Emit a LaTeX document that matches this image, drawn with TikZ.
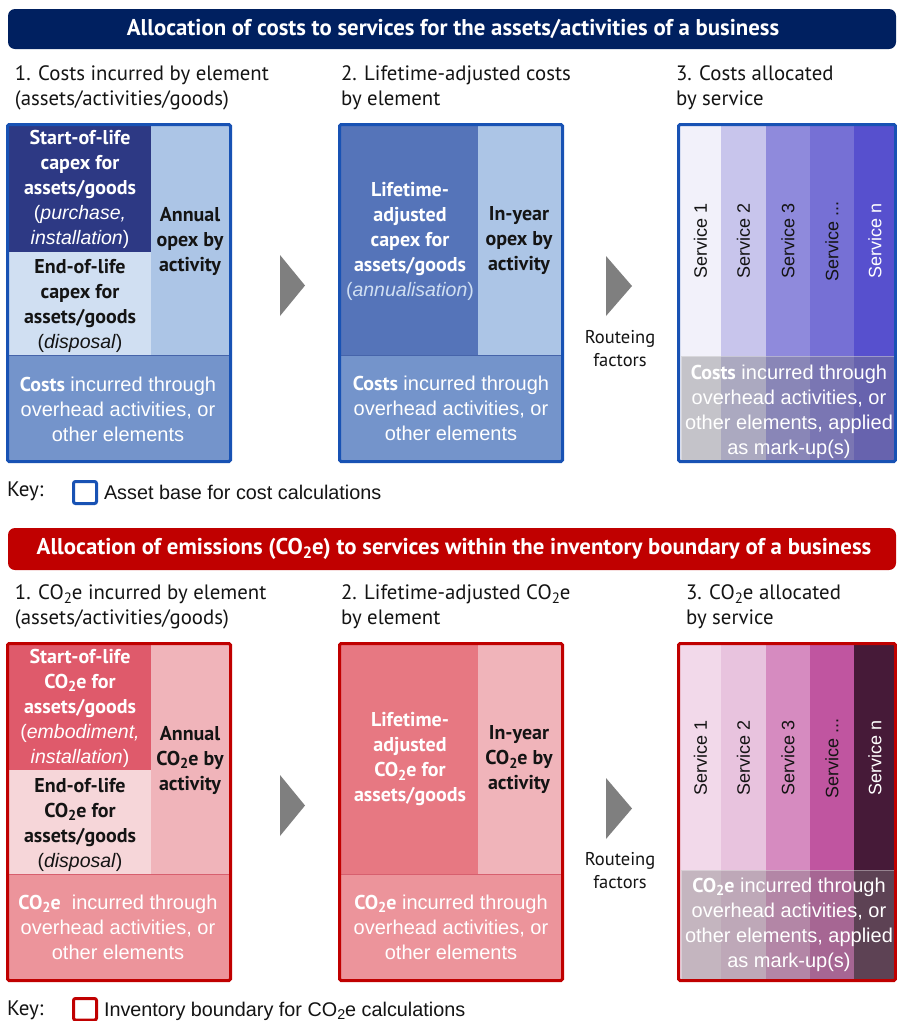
\documentclass[tikz,border=0pt]{standalone}
\usepackage{fontspec}
\setmainfont{PT Sans}
\newfontfamily\arialf{Liberation Sans}
\newcommand{\cotwo}{CO\raisebox{-0.35ex}{\scalebox{0.72}{2}}e}
\definecolor{navy}{RGB}{0,32,96}
\definecolor{bborder}{RGB}{24,82,180}
\definecolor{bsol}{RGB}{45,57,132}
\definecolor{beol}{RGB}{208,223,242}
\definecolor{bann}{RGB}{172,197,230}
\definecolor{bbot}{RGB}{116,148,203}
\definecolor{blife}{RGB}{85,116,185}
\definecolor{bline}{RGB}{70,100,170}
\definecolor{bs1}{RGB}{242,241,250}
\definecolor{bs2}{RGB}{200,197,236}
\definecolor{bs3}{RGB}{143,138,220}
\definecolor{bs4}{RGB}{118,112,213}
\definecolor{bs5}{RGB}{87,80,206}
\definecolor{rtitle}{RGB}{192,0,0}
\definecolor{rborder}{RGB}{192,0,0}
\definecolor{rsol}{RGB}{223,90,107}
\definecolor{reol}{RGB}{246,214,217}
\definecolor{rann}{RGB}{240,180,186}
\definecolor{rbot}{RGB}{236,148,155}
\definecolor{rlife}{RGB}{231,120,130}
\definecolor{rline}{RGB}{215,95,110}
\definecolor{rs1}{RGB}{242,217,234}
\definecolor{rs2}{RGB}{232,195,222}
\definecolor{rs3}{RGB}{214,139,192}
\definecolor{rs4}{RGB}{192,85,160}
\definecolor{rs5}{RGB}{70,26,56}
\definecolor{arrgray}{RGB}{127,127,127}
\definecolor{txt}{RGB}{20,20,20}
\begin{document}
\begin{tikzpicture}[x=1pt,y=-1pt,
  every node/.style={inner sep=0pt,outer sep=0pt},
  titletxt/.style={text=white,font=\bfseries\fontsize{22.8}{26}\selectfont},
  headtxt/.style={anchor=north west,align=left,text=txt,font=\fontsize{20.8}{25}\selectfont},
  celltxt/.style={align=center,font=\bfseries\fontsize{20}{25}\selectfont},
  bottxt/.style={align=center,text=white,font=\arialf\fontsize{20}{25}\selectfont},
  servtxt/.style={rotate=90,font=\arialf\fontsize{18}{20}\selectfont},
  keytxt/.style={anchor=west,text=txt,font=\arialf\fontsize{19.8}{22}\selectfont},
  keylbl/.style={anchor=west,text=txt,font=\fontsize{21}{22}\selectfont},
  routetxt/.style={align=center,text=txt,font=\fontsize{18.5}{23}\selectfont},
  overlay/.style={fill=gray,fill opacity=0.4,draw=white,draw opacity=0.35,line width=1},
  tri/.style={fill=arrgray}]
\useasboundingbox (0,0) rectangle (897,1021);
\fill[white] (0,0) rectangle (897,1021);

% ================= TOP (costs) =================
\fill[navy,rounded corners=7] (8,9) rectangle (896,49);
\node[titletxt] (t1) at (453,29) {Allocation of costs to services for the assets/activities of a business};

\node[headtxt] (h11) at (15,66) {1. Costs incurred by element\\(assets/activities/goods)};
\node[headtxt] (h12) at (341,66) {2. Lifetime-adjusted costs\\by element};
\node[headtxt] (h13) at (676,66) {3. Costs allocated\\by service};

% box 1
\fill[bsol] (9,126) rectangle (151,252);
\fill[beol] (9,252) rectangle (151,355);
\fill[bann] (151,126) rectangle (229,355);
\fill[bbot] (9,355) rectangle (229,460);
\draw[bline,line width=1] (9,355.5) -- (229,355.5);
\draw[bborder,line width=3,rounded corners=1.5] (7.5,124.5) rectangle (230.5,461.5);
\node[celltxt,text=white] (c1sol) at (80,189.5) {Start-of-life\\capex for\\assets/goods\\{\mdseries\arialf\fontsize{19.5}{25}\selectfont(\textit{purchase,}}\\{\mdseries\arialf\fontsize{19.5}{25}\selectfont\textit{installation})}};
\node[celltxt,text=txt] (c1ann) at (190,241) {Annual\\opex by\\activity};
\node[celltxt,text=txt] (c1eol) at (80,305.5) {End-of-life\\capex for\\assets/goods\\{\mdseries\arialf\fontsize{19.5}{25}\selectfont(\textit{disposal})}};
\node[bottxt] (c1bot) at (118,409) {{\rmfamily\bfseries Costs} incurred through\\overhead activities, or\\other elements};

% box 2
\fill[blife] (341,126) rectangle (478,355);
\fill[bann] (478,126) rectangle (561,355);
\fill[bbot] (341,355) rectangle (561,460);
\draw[bline,line width=1] (341,355.5) -- (561,355.5);
\draw[bborder,line width=3,rounded corners=1.5] (339.5,124.5) rectangle (562.5,461.5);
\node[celltxt,text=white] (c2life) at (410,241) {Lifetime-\\adjusted\\capex for\\assets/goods\\{\mdseries\arialf\fontsize{19.5}{25}\selectfont\color{beol}(\textit{annualisation})}};
\node[celltxt,text=txt] (c2ann) at (519,241) {In-year\\opex by\\activity};
\node[bottxt] (c2bot) at (451,408.5) {{\rmfamily\bfseries Costs} incurred through\\overhead activities, or\\other elements};

% arrows
\fill[tri] (280,255) -- (305,285.5) -- (280,316) -- cycle;
\fill[tri] (606,256) -- (632,286) -- (606,316) -- cycle;
\node[routetxt] (r1) at (620,348.5) {Routeing\\factors};

% box 3
\fill[bs1] (680,126) rectangle (721,460);
\fill[bs2] (721,126) rectangle (766,460);
\fill[bs3] (766,126) rectangle (810,460);
\fill[bs4] (810,126) rectangle (854,460);
\fill[bs5] (854,126) rectangle (895,460);
\node[servtxt,text=txt] (s11) at (700.5,241) {Service 1};
\node[servtxt,text=txt] (s12) at (743.5,241) {Service 2};
\node[servtxt,text=txt] (s13) at (788,241) {Service 3};
\node[servtxt,text=txt] (s14) at (832,241) {Service ...};
\node[servtxt,text=white] (s15) at (875,241) {Service n};
\path[overlay] (681,356) rectangle (895,460);
\node[bottxt] (c3bot) at (789,411.5) {{\rmfamily\bfseries Costs} incurred through\\overhead activities, or\\other elements, applied\\as mark-up(s)};
\draw[bborder,line width=3,rounded corners=1.5] (678.5,124.5) rectangle (895.5,461.5);

% key
\node[keylbl] (k1) at (7,491) {Key:};
\draw[bborder,line width=3,rounded corners=2] (73.5,481.5) rectangle (96.5,503.5);
\node[keytxt] (k1t) at (104,492) {Asset base for cost calculations};

% ================= BOTTOM (emissions) =================
\fill[rtitle,rounded corners=7] (8,528) rectangle (896,570);
\node[titletxt] (t2) at (454,549) {Allocation of emissions (\cotwo) to services within the inventory boundary of a business};

\node[headtxt] (h21) at (15,585) {1. \cotwo\ incurred by element\\(assets/activities/goods)};
\node[headtxt] (h22) at (341,585) {2. Lifetime-adjusted \cotwo\\by element};
\node[headtxt] (h23) at (686,585) {3. \cotwo\ allocated\\by service};

% box 1
\fill[rsol] (9,645) rectangle (151,770);
\fill[reol] (9,770) rectangle (151,874);
\fill[rann] (151,645) rectangle (229,874);
\fill[rbot] (9,874) rectangle (229,979);
\draw[rline,line width=1] (9,874.5) -- (229,874.5);
\draw[rborder,line width=3,rounded corners=1.5] (7.5,643.5) rectangle (230.5,980.5);
\node[celltxt,text=white] (d1sol) at (80,708) {Start-of-life\\\cotwo\ for\\assets/goods\\{\mdseries\arialf\fontsize{19.5}{25}\selectfont(\textit{embodiment,}}\\{\mdseries\arialf\fontsize{19.5}{25}\selectfont\textit{installation})}};
\node[celltxt,text=txt] (d1ann) at (190,760) {Annual\\\cotwo\ by\\activity};
\node[celltxt,text=txt] (d1eol) at (80,824.5) {End-of-life\\\cotwo\ for\\assets/goods\\{\mdseries\arialf\fontsize{19.5}{25}\selectfont(\textit{disposal})}};
\node[bottxt] (d1bot) at (118,927) {{\rmfamily\bfseries\cotwo}\ \ incurred through\\overhead activities, or\\other elements};

% box 2
\fill[rlife] (341,645) rectangle (478,874);
\fill[rann] (478,645) rectangle (561,874);
\fill[rbot] (341,874) rectangle (561,979);
\draw[rline,line width=1] (341,874.5) -- (561,874.5);
\draw[rborder,line width=3,rounded corners=1.5] (339.5,643.5) rectangle (562.5,980.5);
\node[celltxt,text=white] (d2life) at (410,759) {Lifetime-\\adjusted\\\cotwo\ for\\assets/goods};
\node[celltxt,text=txt] (d2ann) at (519,760) {In-year\\\cotwo\ by\\activity};
\node[bottxt] (d2bot) at (451,927) {{\rmfamily\bfseries\cotwo} incurred through\\overhead activities, or\\other elements};

% arrows
\fill[tri] (280,775) -- (305,805.5) -- (280,836) -- cycle;
\fill[tri] (606,778) -- (632,808.5) -- (606,839) -- cycle;
\node[routetxt] (r2) at (620,870.5) {Routeing\\factors};

% box 3
\fill[rs1] (680,645) rectangle (721,979);
\fill[rs2] (721,645) rectangle (766,979);
\fill[rs3] (766,645) rectangle (810,979);
\fill[rs4] (810,645) rectangle (854,979);
\fill[rs5] (854,645) rectangle (895,979);
\node[servtxt,text=txt] (s21) at (700.5,758) {Service 1};
\node[servtxt,text=txt] (s22) at (743.5,758) {Service 2};
\node[servtxt,text=txt] (s23) at (788,758) {Service 3};
\node[servtxt,text=txt] (s24) at (832,758) {Service ...};
\node[servtxt,text=white] (s25) at (875,758) {Service n};
\path[overlay] (681,870) rectangle (895,979);
\node[bottxt] (d3bot) at (789,924.5) {{\rmfamily\bfseries\cotwo} incurred through\\overhead activities, or\\other elements, applied\\as mark-up(s)};
\draw[rborder,line width=3,rounded corners=1.5] (678.5,643.5) rectangle (895.5,980.5);

% key
\node[keylbl] (k2) at (7,1010) {Key:};
\draw[rborder,line width=3,rounded corners=2] (73.5,998.5) rectangle (96.5,1020);
\node[keytxt] (k2t) at (104,1011) {Inventory boundary for \cotwo\ calculations};
\end{tikzpicture}
\end{document}
